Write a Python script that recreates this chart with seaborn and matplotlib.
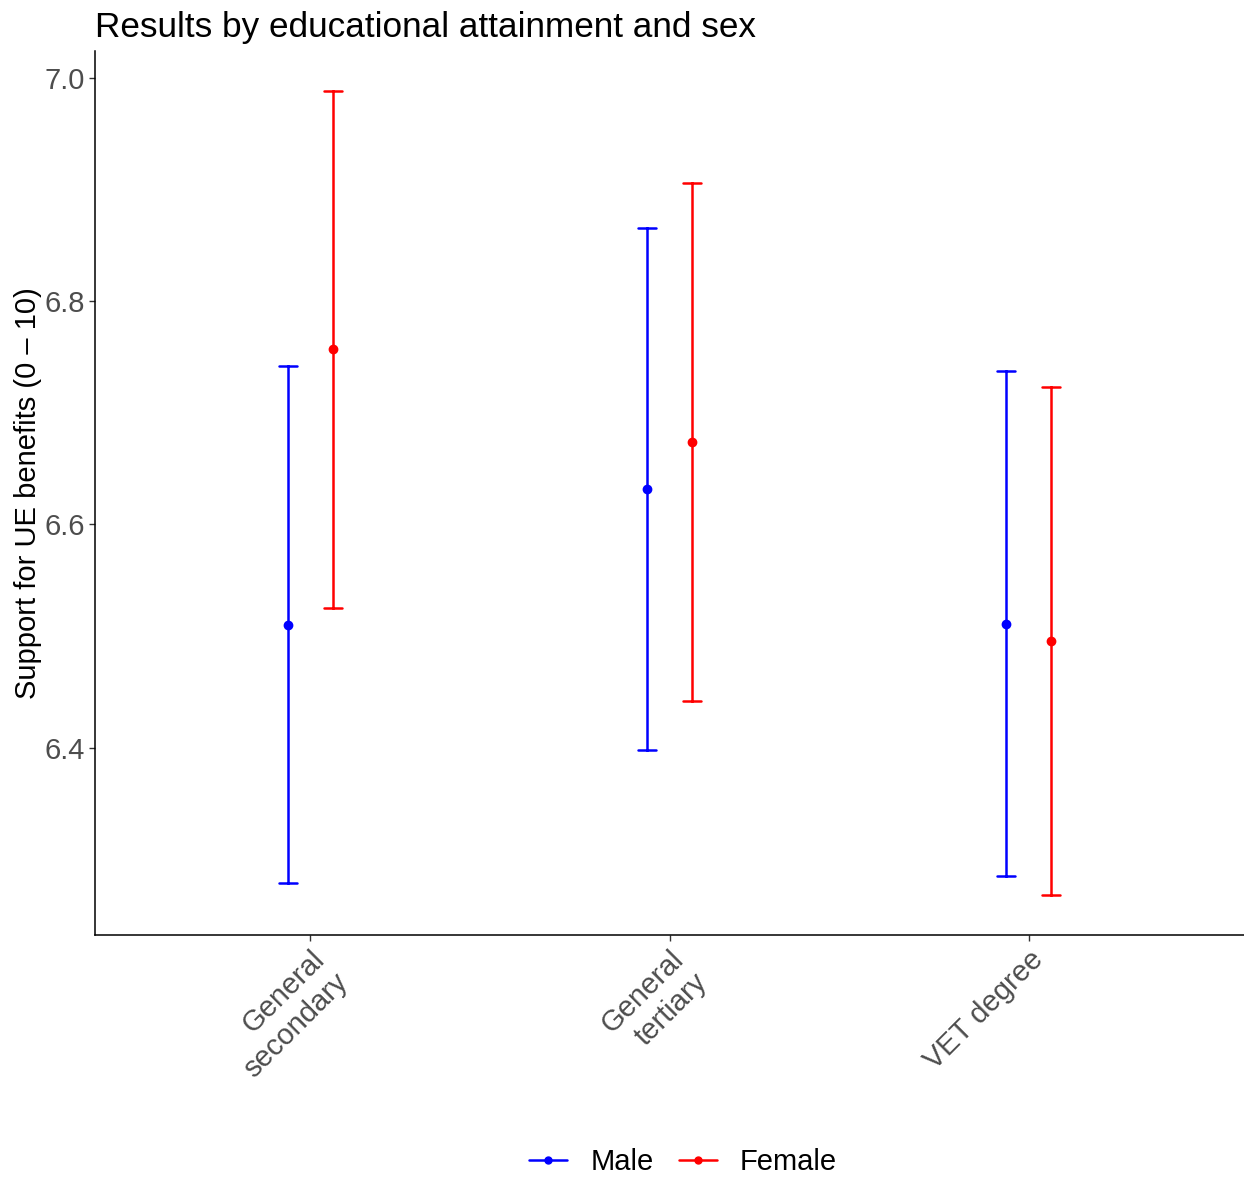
import pandas as pd
import matplotlib
matplotlib.use("Agg")
import matplotlib.pyplot as plt
from matplotlib.lines import Line2D
import seaborn as sns

# estimates
categories = ["General\nsecondary", "General\ntertiary", "VET degree"]
sexes = ["Male", "Female"]
male_est = [6.510, 6.632, 6.511]
male_lo = [6.279, 6.398, 6.285]
male_hi = [6.742, 6.865, 6.737]
female_est = [6.757, 6.674, 6.495]
female_lo = [6.525, 6.442, 6.268]
female_hi = [6.988, 6.906, 6.723]
colors = {"Male": "#0000FF", "Female": "#FF0000"}

# long table: low / estimate / high per group -> median + full range
rows = []
for i, cat in enumerate(categories):
    for sex, est, lo, hi in [("Male", male_est, male_lo, male_hi),
                             ("Female", female_est, female_lo, female_hi)]:
        for v in (lo[i], est[i], hi[i]):
            rows.append({"edu": cat, "sex": sex, "value": v})
df = pd.DataFrame(rows)

sns.set_theme(style="white")
plt.rcParams["font.family"] = ["Liberation Sans", "DejaVu Sans"]

fig = plt.figure(figsize=(12.44, 11.8), dpi=100)
ax = fig.add_axes([0.0764, 0.2076, 0.9236, 0.7492])

sns.pointplot(data=df, x="edu", y="value", hue="sex", order=categories,
              hue_order=sexes, palette=colors,
              estimator="median", errorbar=("pi", 100), dodge=0.125,
              linestyle="none", capsize=0.05, err_kws={"linewidth": 1.8},
              markersize=5, ax=ax, legend=False)

ax.set_ylim(6.232, 7.024)
ax.set_xlim(-0.6, 2.6)
ax.set_yticks([6.4, 6.6, 6.8, 7.0])
ax.set_yticklabels(["6.4", "6.6", "6.8", "7.0"])
ax.set_xlabel("")
ax.set_ylabel("Support for UE benefits (0 \u2013 10)", fontsize=21, color="black", labelpad=1.5)
ax.set_title("Results by educational attainment and sex", loc="left", fontsize=25.3,
             pad=10, color="black")

sns.despine(ax=ax)
for s in ["left", "bottom"]:
    ax.spines[s].set_color("black")
    ax.spines[s].set_linewidth(1.1)
ax.tick_params(axis="both", length=4, width=1, color="#333333", labelcolor="#4D4D4D",
               labelsize=21, left=True, bottom=True)
for lab in ax.get_xticklabels():
    lab.set_rotation(45)
    lab.set_ha("right")
    lab.set_rotation_mode("anchor")

handles = [Line2D([], [], color=colors[s], marker="o", markersize=5, linewidth=1.8)
           for s in sexes]
leg = ax.legend(handles, sexes, loc="center", bbox_to_anchor=(0.512, -0.257),
                ncol=2, frameon=False, fontsize=21, handlelength=1.3,
                handletextpad=0.8, columnspacing=0.85)
for t in leg.get_texts():
    t.set_color("black")

fig.savefig("out.png", dpi=100)
